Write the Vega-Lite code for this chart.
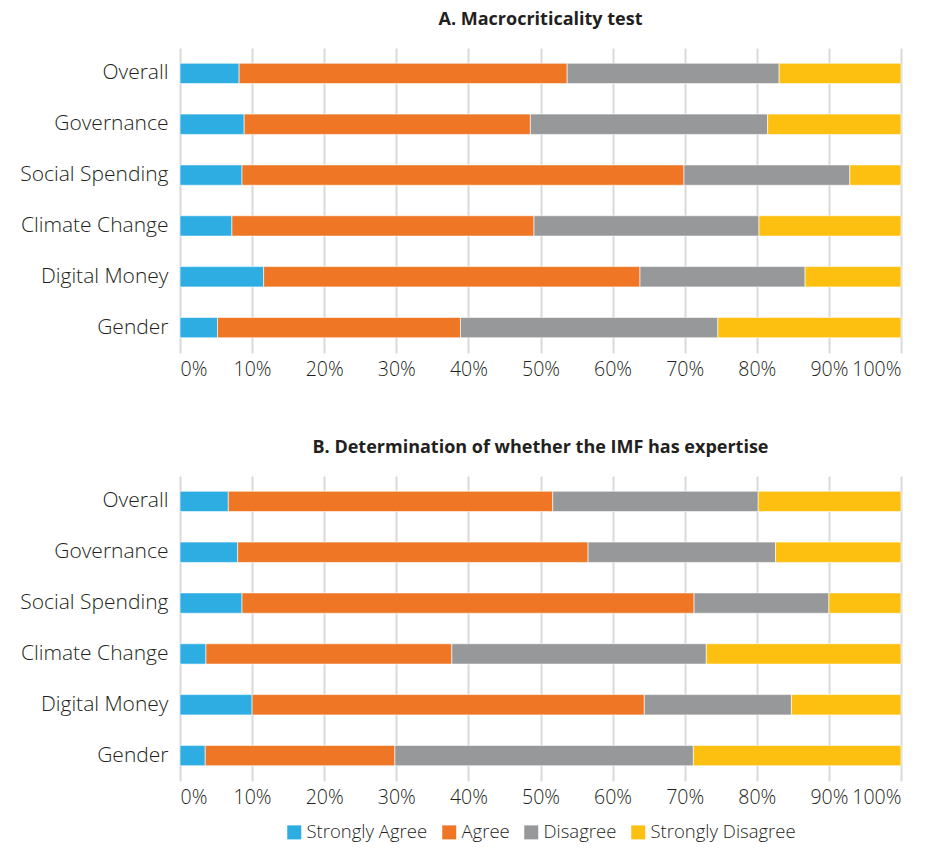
{
  "$schema": "https://vega.github.io/schema/vega-lite/v6.json",
  "background": "white",
  "padding": {"left": 19, "right": 25, "top": 11, "bottom": 5},
  "datasets": {
    "a": [
      {"topic": "Overall", "resp": "Strongly Agree", "k": 1, "v": 8.2},
      {"topic": "Overall", "resp": "Agree", "k": 2, "v": 45.5},
      {"topic": "Overall", "resp": "Disagree", "k": 3, "v": 29.4},
      {"topic": "Overall", "resp": "Strongly Disagree", "k": 4, "v": 16.9},
      {"topic": "Governance", "resp": "Strongly Agree", "k": 1, "v": 8.9},
      {"topic": "Governance", "resp": "Agree", "k": 2, "v": 39.7},
      {"topic": "Governance", "resp": "Disagree", "k": 3, "v": 32.9},
      {"topic": "Governance", "resp": "Strongly Disagree", "k": 4, "v": 18.5},
      {"topic": "Social Spending", "resp": "Strongly Agree", "k": 1, "v": 8.6},
      {"topic": "Social Spending", "resp": "Agree", "k": 2, "v": 61.3},
      {"topic": "Social Spending", "resp": "Disagree", "k": 3, "v": 23.0},
      {"topic": "Social Spending", "resp": "Strongly Disagree", "k": 4, "v": 7.1},
      {"topic": "Climate Change", "resp": "Strongly Agree", "k": 1, "v": 7.2},
      {"topic": "Climate Change", "resp": "Agree", "k": 2, "v": 41.9},
      {"topic": "Climate Change", "resp": "Disagree", "k": 3, "v": 31.2},
      {"topic": "Climate Change", "resp": "Strongly Disagree", "k": 4, "v": 19.7},
      {"topic": "Digital Money", "resp": "Strongly Agree", "k": 1, "v": 11.6},
      {"topic": "Digital Money", "resp": "Agree", "k": 2, "v": 52.2},
      {"topic": "Digital Money", "resp": "Disagree", "k": 3, "v": 22.9},
      {"topic": "Digital Money", "resp": "Strongly Disagree", "k": 4, "v": 13.3},
      {"topic": "Gender", "resp": "Strongly Agree", "k": 1, "v": 5.2},
      {"topic": "Gender", "resp": "Agree", "k": 2, "v": 33.7},
      {"topic": "Gender", "resp": "Disagree", "k": 3, "v": 35.7},
      {"topic": "Gender", "resp": "Strongly Disagree", "k": 4, "v": 25.4}
    ],
    "b": [
      {"topic": "Overall", "resp": "Strongly Agree", "k": 1, "v": 6.7},
      {"topic": "Overall", "resp": "Agree", "k": 2, "v": 45.0},
      {"topic": "Overall", "resp": "Disagree", "k": 3, "v": 28.5},
      {"topic": "Overall", "resp": "Strongly Disagree", "k": 4, "v": 19.8},
      {"topic": "Governance", "resp": "Strongly Agree", "k": 1, "v": 8.0},
      {"topic": "Governance", "resp": "Agree", "k": 2, "v": 48.6},
      {"topic": "Governance", "resp": "Disagree", "k": 3, "v": 26.0},
      {"topic": "Governance", "resp": "Strongly Disagree", "k": 4, "v": 17.4},
      {"topic": "Social Spending", "resp": "Strongly Agree", "k": 1, "v": 8.6},
      {"topic": "Social Spending", "resp": "Agree", "k": 2, "v": 62.7},
      {"topic": "Social Spending", "resp": "Disagree", "k": 3, "v": 18.7},
      {"topic": "Social Spending", "resp": "Strongly Disagree", "k": 4, "v": 10.0},
      {"topic": "Climate Change", "resp": "Strongly Agree", "k": 1, "v": 3.6},
      {"topic": "Climate Change", "resp": "Agree", "k": 2, "v": 34.1},
      {"topic": "Climate Change", "resp": "Disagree", "k": 3, "v": 35.3},
      {"topic": "Climate Change", "resp": "Strongly Disagree", "k": 4, "v": 27.0},
      {"topic": "Digital Money", "resp": "Strongly Agree", "k": 1, "v": 10.0},
      {"topic": "Digital Money", "resp": "Agree", "k": 2, "v": 54.4},
      {"topic": "Digital Money", "resp": "Disagree", "k": 3, "v": 20.4},
      {"topic": "Digital Money", "resp": "Strongly Disagree", "k": 4, "v": 15.2},
      {"topic": "Gender", "resp": "Strongly Agree", "k": 1, "v": 3.5},
      {"topic": "Gender", "resp": "Agree", "k": 2, "v": 26.3},
      {"topic": "Gender", "resp": "Disagree", "k": 3, "v": 41.4},
      {"topic": "Gender", "resp": "Strongly Disagree", "k": 4, "v": 28.8}
    ]
  },
  "spacing": 60,
  "vconcat": [
    {
      "title": {"text": "A. Macrocriticality test"},
      "data": {"name": "a"},
      "width": 721,
      "height": 305,
      "mark": {"type": "bar", "stroke": "white", "strokeWidth": 0.6},
      "encoding": {
        "y": {"field": "topic", "type": "nominal", "sort": ["Overall", "Governance", "Social Spending", "Climate Change", "Digital Money", "Gender"], "scale": {"paddingInner": 0.6, "paddingOuter": 0.3}, "axis": {"title": null}},
        "x": {"field": "v", "type": "quantitative", "stack": "normalize", "scale": {"domain": [0, 1]}, "axis": {"title": null, "format": ".0%", "values": [0, 0.1, 0.2, 0.3, 0.4, 0.5, 0.6, 0.7, 0.8, 0.9, 1]}},
        "color": {"field": "resp", "type": "nominal", "scale": {"domain": ["Strongly Agree", "Agree", "Disagree", "Strongly Disagree"], "range": ["#2EADE3", "#EF7624", "#97989A", "#FDC010"]}, "legend": {"title": null}},
        "order": {"field": "k", "type": "quantitative"}
      }
    },
    {
      "title": {"text": "B. Determination of whether the IMF has expertise"},
      "data": {"name": "b"},
      "width": 721,
      "height": 305,
      "mark": {"type": "bar", "stroke": "white", "strokeWidth": 0.6},
      "encoding": {
        "y": {"field": "topic", "type": "nominal", "sort": ["Overall", "Governance", "Social Spending", "Climate Change", "Digital Money", "Gender"], "scale": {"paddingInner": 0.6, "paddingOuter": 0.3}, "axis": {"title": null}},
        "x": {"field": "v", "type": "quantitative", "stack": "normalize", "scale": {"domain": [0, 1]}, "axis": {"title": null, "format": ".0%", "values": [0, 0.1, 0.2, 0.3, 0.4, 0.5, 0.6, 0.7, 0.8, 0.9, 1]}},
        "color": {"field": "resp", "type": "nominal", "scale": {"domain": ["Strongly Agree", "Agree", "Disagree", "Strongly Disagree"], "range": ["#2EADE3", "#EF7624", "#97989A", "#FDC010"]}, "legend": {"title": null}},
        "order": {"field": "k", "type": "quantitative"}
      }
    }
  ],
  "config": {
    "font": "Open Sans",
    "view": {"stroke": null},
    "title": {"fontSize": 18, "fontWeight": "bold", "color": "#231f20", "anchor": "middle", "offset": 19, "font": "Open Sans"},
    "axis": {"labelColor": "#231f20", "domain": false, "ticks": false, "labelFont": "Open Sans", "labelFontWeight": 300},
    "axisX": {"grid": true, "gridColor": "#d9d9d9", "gridWidth": 2, "labelPadding": 7, "labelFontSize": 19.5},
    "axisY": {"grid": false, "labelPadding": 12, "labelFontSize": 21},
    "legend": {"orient": "bottom", "direction": "horizontal", "symbolType": "square", "symbolSize": 196, "symbolStrokeWidth": 0, "labelFontSize": 18.5, "labelColor": "#231f20", "labelFont": "Open Sans", "labelFontWeight": 300, "columnPadding": 12, "labelOffset": 3, "offset": 16, "layout": {"bottom": {"anchor": "middle"}}}
  }
}
